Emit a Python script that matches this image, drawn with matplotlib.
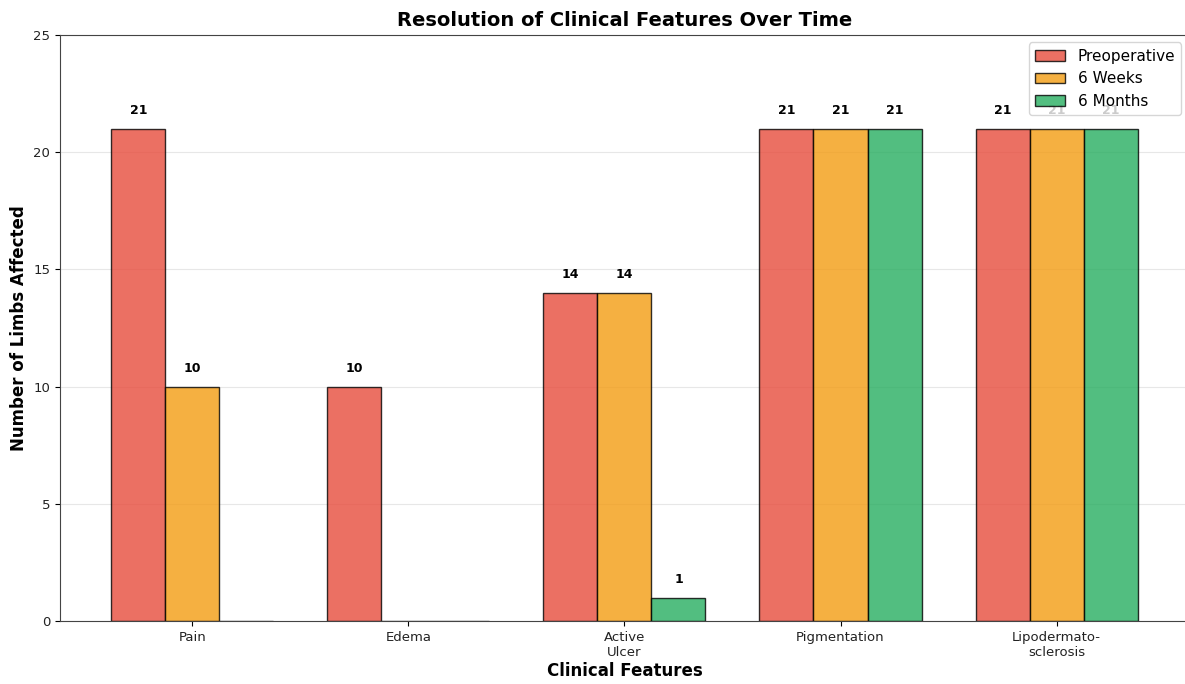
import matplotlib
matplotlib.use("Agg")
import matplotlib.pyplot as plt
import numpy as np

categories = ["Pain", "Edema", "Active\nUlcer", "Pigmentation", "Lipodermato-\nsclerosis"]
series_names = ["Preoperative", "6 Weeks", "6 Months"]
preoperative = [21, 10, 14, 21, 21]
six_weeks = [10, 0, 14, 21, 21]
six_months = [0, 0, 1, 21, 21]
colors = ["#e74c3c", "#f39c12", "#27ae60"]

fig = plt.figure(figsize=(11.85, 6.84), dpi=100)
ax = fig.add_axes([0.0506, 0.0921, 0.9527, 0.857])

x = np.arange(len(categories))
width = 0.25
for i, (vals, name, col) in enumerate(zip([preoperative, six_weeks, six_months], series_names, colors)):
    pos = x + (i - 1) * width
    bars = ax.bar(pos, vals, width, label=name, color=col, alpha=0.8,
                  edgecolor="black", linewidth=1)
    for b, v in zip(bars, vals):
        if v > 0:
            ax.text(b.get_x() + b.get_width() / 2, v + 0.5, f"{v}",
                    ha="center", va="bottom", fontsize=9, fontweight="bold")

ax.set_ylim(0, 25)
ax.set_xticks(x)
ax.set_xticklabels(categories, fontsize=9.5, color="#222222")
ax.tick_params(axis="y", labelsize=9.5, labelcolor="#222222")
ax.set_xlabel("Clinical Features", fontsize=12, fontweight="bold", labelpad=2)
ax.set_ylabel("Number of Limbs Affected", fontsize=12, fontweight="bold")
ax.set_title("Resolution of Clinical Features Over Time", fontsize=14, fontweight="bold", pad=6)
ax.yaxis.grid(True, alpha=0.3)
ax.set_axisbelow(True)
ax.spines["right"].set_visible(False)
for s in ("left", "top", "bottom"):
    ax.spines[s].set_color("#444444")
ax.legend(loc="upper right", fontsize=11)

fig.savefig("out.png", dpi=100)
